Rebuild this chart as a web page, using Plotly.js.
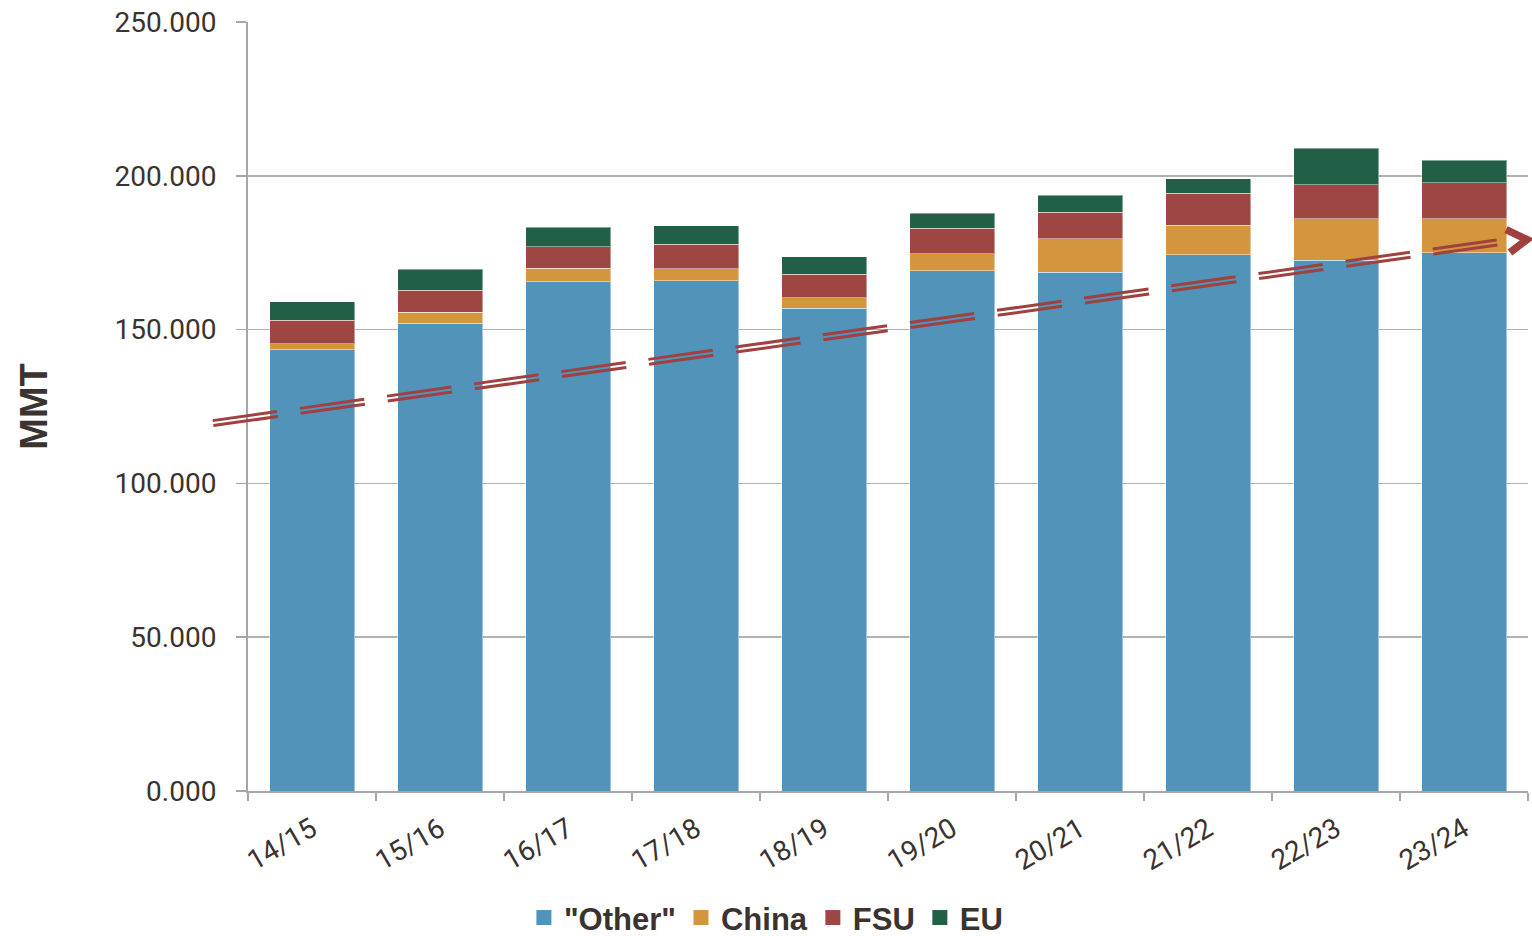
<!DOCTYPE html>
<html>
<head>
<meta charset="utf-8">
<script src="https://cdn.plot.ly/plotly-3.0.1.min.js"></script>
<style>
  html, body { margin: 0; padding: 0; background: #fff; }
  #chart { width: 1532px; height: 936px; }
</style>
</head>
<body>
<div id="chart"></div>
<script>
// ---- data (MMT) ----
const seasons = ["14/15","15/16","16/17","17/18","18/19","19/20","20/21","21/22","22/23","23/24"];
const other   = [143.5, 152.0, 165.6, 165.9, 157.0, 169.1, 168.7, 174.3, 172.5, 175.0];
const china   = [1.9, 3.6, 4.4, 3.9, 3.3, 5.5, 10.8, 9.6, 13.5, 11.1];
const fsu     = [7.6, 7.2, 6.9, 7.9, 7.7, 8.3, 8.7, 10.4, 11.1, 11.6];
const eu      = [6.0, 6.9, 6.4, 6.1, 5.7, 5.0, 5.5, 4.8, 11.9, 7.4];
const seriesNames = ['"Other"', "China", "FSU", "EU"];
const yTicks = [0, 50, 100, 150, 200, 250];
// trend arrow: [category position, value]
const trendStart = [-0.773, 119.6];
const trendEnd   = [9.258, 178.3];

// ---- geometry ----
const W = 1532, H = 936;
const M = {l: 248, r: 4, t: 22, b: 145, autoexpand: false};
const plotW = W - M.l - M.r, plotH = H - M.t - M.b;
const yMax = 250;
const nCat = seasons.length;

const textColor = "#3a3330";
const colors = ["#5193b9", "#d4953f", "#9d4643", "#215f46"];
const series = [other, china, fsu, eu];

const traces = series.map((vals, i) => ({
  type: "bar",
  name: seriesNames[i],
  x: seasons,
  y: vals,
  showlegend: false,
  marker: { color: colors[i], line: { color: "rgba(255,255,255,0.45)", width: 1 } },
  hoverinfo: "x+y+name"
}));
// legend entries (square swatches)
series.forEach((vals, i) => {
  traces.push({
    type: "scatter",
    mode: "markers",
    name: seriesNames[i],
    x: [null], y: [null],
    marker: { symbol: "square", size: 15, color: colors[i] },
    showlegend: true,
    hoverinfo: "skip"
  });
});

// conversion helpers: data -> pixel (relative to plot area) -> paper
function toPx(cat, val) { return [(cat + 0.5) / nCat * plotW, plotH - val / yMax * plotH]; }
function pxToPaper(p) { return [p[0] / plotW, 1 - p[1] / plotH]; }

const a = toPx(trendStart[0], trendStart[1]);
const b = toPx(trendEnd[0], trendEnd[1]);
const dx = b[0] - a[0], dy = b[1] - a[1];
const len = Math.hypot(dx, dy);
const nx = -dy / len, ny = dx / len; // perpendicular
const off = 2.5;
const trendColor = "#a0413f";
const shapes = [];
[-1, 1].forEach(s => {
  const p0 = pxToPaper([a[0] + s * off * nx, a[1] + s * off * ny]);
  const p1 = pxToPaper([b[0] + s * off * nx, b[1] + s * off * ny]);
  shapes.push({
    type: "line", xref: "paper", yref: "paper",
    x0: p0[0], y0: p0[1], x1: p1[0], y1: p1[1],
    line: { color: trendColor, width: 3, dash: "65px,23px" },
    layer: "above"
  });
});
// chevron arrow head
const c1 = pxToPaper([b[0] + 9, b[1] - 13]);
const c2 = pxToPaper([b[0] + 30, b[1] - 3]);
const c3 = pxToPaper([b[0] + 13, b[1] + 10]);
shapes.push({
  type: "path", xref: "paper", yref: "paper",
  path: `M ${c1[0]},${c1[1]} L ${c2[0]},${c2[1]} L ${c3[0]},${c3[1]}`,
  line: { color: trendColor, width: 7.5 },
  layer: "above"
});

const layout = {
  width: W, height: H,
  margin: M,
  paper_bgcolor: "#fff",
  plot_bgcolor: "#fff",
  barmode: "stack",
  bargap: 0.336,
  showlegend: true,
  font: { family: "Roboto, 'Liberation Sans', sans-serif", color: textColor },
  xaxis: {
    type: "category",
    tickangle: -30,
    tickson: "boundaries",
    ticks: "outside",
    ticklen: 8,
    tickwidth: 1.5,
    tickcolor: "#a6a6a6",
    showline: true,
    linecolor: "#a6a6a6",
    linewidth: 2,
    showgrid: false,
    tickfont: { family: "Roboto, sans-serif", size: 28, color: textColor },
    ticklabelstandoff: 9,
    range: [-0.5, nCat - 0.5],
    fixedrange: true
  },
  yaxis: {
    range: [0, yMax],
    tickvals: yTicks,
    tickformat: ".3f",
    ticks: "outside",
    ticklen: 10,
    tickwidth: 1.5,
    tickcolor: "#a6a6a6",
    showline: true,
    linecolor: "#a6a6a6",
    linewidth: 2,
    showgrid: true,
    gridcolor: "#b0b0b0",
    gridwidth: 1.6,
    zeroline: false,
    tickfont: { family: "Roboto, sans-serif", size: 28, color: textColor },
    ticklabelstandoff: 14,
    title: {
      text: "MMT",
      font: { family: "'Liberation Sans', Arial, sans-serif", size: 38, weight: "bold", color: textColor },
      standoff: 55
    },
    fixedrange: true
  },
  legend: {
    orientation: "h",
    x: 0.405, xanchor: "center",
    y: -0.165, yanchor: "middle",
    font: { family: "'Liberation Sans', Arial, sans-serif", size: 31, weight: "bold", color: textColor },
    itemwidth: 30,
    traceorder: "normal"
  },
  shapes: shapes
};

Plotly.newPlot("chart", traces, layout, { displayModeBar: false, staticPlot: true });
</script>
</body>
</html>
